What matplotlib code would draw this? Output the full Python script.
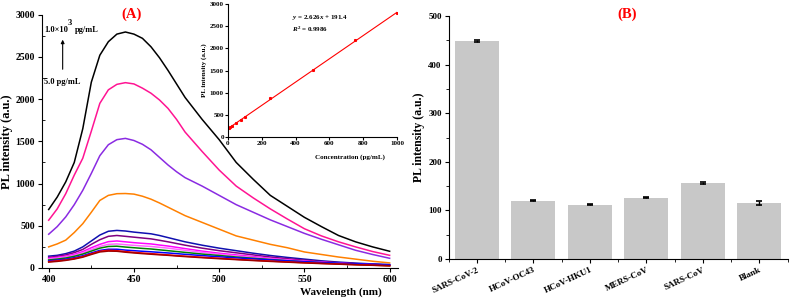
import matplotlib
matplotlib.use("Agg")
import matplotlib.pyplot as plt
from matplotlib.ticker import MultipleLocator

plt.rcParams["font.family"] = ["Liberation Serif", "DejaVu Serif"]
plt.rcParams["font.weight"] = "bold"
plt.rcParams["mathtext.fontset"] = "custom"
plt.rcParams["mathtext.rm"] = "Liberation Serif:bold"
plt.rcParams["mathtext.it"] = "Liberation Serif:bold:italic"

# ---- panel A: PL spectra ----
wavelength = [400, 405, 410, 415, 420, 425, 430, 435, 440, 445, 450, 455,
              460, 465, 470, 475, 480, 490, 500, 510, 520, 530, 540, 550,
              560, 570, 580, 590, 600]

spec_1000 = [693, 840, 1020, 1250, 1650, 2200, 2520, 2680, 2770, 2795, 2770, 2720,
             2620, 2490, 2340, 2180, 2020, 1760, 1520, 1250, 1050, 860, 730, 600,
             490, 385, 310, 250, 198]
spec_750 = [566, 700, 880, 1100, 1300, 1620, 1950, 2110, 2175, 2195, 2180, 2130,
            2070, 1990, 1890, 1760, 1610, 1380, 1160, 970, 830, 700, 580, 465,
            380, 310, 250, 195, 150]
spec_500 = [400, 490, 605, 750, 920, 1120, 1330, 1460, 1520, 1535, 1510, 1465,
            1400, 1310, 1220, 1140, 1070, 970, 860, 750, 660, 570, 490, 410,
            340, 275, 210, 160, 115]
spec_250 = [250, 285, 330, 420, 525, 660, 800, 860, 880, 882, 875, 850,
            815, 770, 720, 670, 620, 540, 460, 380, 330, 280, 240, 190,
            160, 130, 105, 80, 60]
spec_100 = [140, 150, 170, 200, 250, 320, 390, 435, 445, 438, 425, 415,
            405, 385, 360, 335, 310, 270, 235, 205, 175, 148, 125, 105,
            85, 70, 58, 48, 40]
spec_75 = [125, 138, 155, 182, 220, 280, 335, 375, 385, 375, 365, 355,
           345, 328, 310, 290, 270, 235, 205, 180, 155, 130, 110, 92,
           76, 63, 52, 43, 35]
spec_50 = [115, 126, 140, 162, 195, 240, 280, 312, 320, 310, 300, 292,
           285, 272, 260, 245, 230, 200, 175, 155, 135, 115, 98, 83,
           70, 58, 48, 40, 32]
spec_40 = [105, 116, 130, 150, 180, 218, 255, 280, 285, 276, 268, 261,
           255, 245, 235, 222, 210, 185, 162, 143, 125, 107, 92, 78,
           66, 55, 46, 38, 30]
spec_25 = [95, 105, 118, 138, 165, 200, 235, 255, 258, 248, 240, 232,
           225, 215, 205, 195, 185, 165, 148, 130, 115, 100, 86, 73,
           62, 52, 43, 35, 28]
spec_10 = [85, 93, 105, 122, 145, 178, 208, 222, 222, 212, 205, 198,
           192, 185, 178, 170, 162, 147, 133, 120, 108, 96, 85, 75,
           65, 57, 50, 44, 38]
spec_5 = [75, 84, 95, 112, 135, 168, 198, 210, 205, 194, 185, 177,
          170, 162, 155, 147, 140, 127, 115, 103, 92, 82, 72, 63,
          55, 47, 40, 33, 27]
spec_0 = [70, 78, 90, 106, 128, 160, 190, 200, 198, 187, 178, 170,
          163, 156, 150, 142, 135, 122, 110, 99, 88, 78, 69, 60,
          52, 45, 38, 32, 26]

spectra = [spec_1000, spec_750, spec_500, spec_250, spec_100, spec_75,
           spec_50, spec_40, spec_25, spec_10, spec_5, spec_0]
colors = ["black", "#FF1493", "#8A2BE2", "#FF8000", "#1010B0", "#800080",
          "#FF00FF", "#FF66FF", "#008000", "#0000FF", "#FF0000", "#A00000"]

# inset calibration
conc = [5, 10, 25, 50, 75, 100, 250, 500, 750, 1000]
peak = [205, 222, 258, 320, 385, 445, 880, 1525, 2190, 2800]

# ---- panel B: selectivity ----
targets = ["SARS-CoV-2", "HCoV-OC43", "HCoV-HKU1", "MERS-CoV", "SARS-CoV", "Blank"]
intensity = [448, 120, 112, 126, 157, 115]
err = [2, 1.5, 1.5, 1.5, 2, 4]

fig = plt.figure(figsize=(7.9, 2.98), dpi=100)

ax = fig.add_axes([0.053, 0.1007, 0.451, 0.850])
for s, c in zip(spectra, colors):
    ax.plot(wavelength, s, color=c, linewidth=1.1)
ax.set_xlim(396, 605)
ax.set_ylim(0, 3000)
ax.spines["top"].set_visible(False)
ax.spines["right"].set_visible(False)
ax.xaxis.set_major_locator(MultipleLocator(50))
ax.xaxis.set_minor_locator(MultipleLocator(25))
ax.yaxis.set_major_locator(MultipleLocator(500))
ax.yaxis.set_minor_locator(MultipleLocator(250))
ax.tick_params(which="major", direction="out", length=3, labelsize=7, pad=2)
ax.tick_params(which="minor", direction="in", length=2)
ax.set_xlabel("Wavelength (nm)", fontsize=8, fontweight="bold")
ax.xaxis.set_label_coords(0.84, -0.075)
ax.set_ylabel("PL intensity (a.u.)", fontsize=9, fontweight="bold", labelpad=2)

# concentration arrow annotation
ax.text(397.2, 2820, "1.0\u00d710", fontsize=6, fontweight="bold", va="center")
ax.text(411.3, 2900, "3", fontsize=6, fontweight="bold", va="center")
ax.text(415.4, 2820, "pg/mL", fontsize=6, fontweight="bold", va="center")
ax.text(397.2, 2203, "5.0 pg/mL", fontsize=6, fontweight="bold", va="center")
ax.annotate("", xy=(408.2, 2737), xytext=(408.2, 2321),
            arrowprops=dict(arrowstyle="-|>", color="black", lw=0.8, mutation_scale=5))

fig.text(132 / 790, 1 - 14 / 298, "(A)", color="red", fontsize=10.5,
         fontweight="bold", ha="center", va="center")

ins = fig.add_axes([0.2886, 0.540, 0.214, 0.446])
ins.plot(conc, peak, "s", color="red", markersize=1.2)
ins.plot([0, 1000], [191.4, 2.626 * 1000 + 191.4], color="red", linewidth=0.8)
ins.set_xlim(0, 1000)
ins.set_ylim(0, 3000)
ins.spines["top"].set_visible(False)
ins.spines["right"].set_visible(False)
ins.xaxis.set_major_locator(MultipleLocator(200))
ins.yaxis.set_major_locator(MultipleLocator(500))
ins.tick_params(direction="out", length=2, labelsize=5, pad=1)
ins.set_xlabel("Concentration (pg/mL)", fontsize=5, fontweight="bold", labelpad=2)
ins.xaxis.set_label_coords(0.72, -0.13)
ins.set_ylabel("PL intensity (a.u.)", fontsize=5, fontweight="bold", labelpad=2)
ins.text(380, 2700, r"$y$ = 2.626$x$ + 191.4", fontsize=5, va="center")
ins.text(380, 2440, r"$R^2$ = 0.9986", fontsize=5, va="center")

bx = fig.add_axes([0.568, 0.131, 0.429, 0.815])
pos = range(len(targets))
bx.bar(pos, intensity, width=0.78, color="#C8C8C8")
bx.errorbar(pos, intensity, yerr=err, fmt="none", ecolor="black",
            elinewidth=1, capsize=2.5, capthick=1.2)
bx.set_xlim(-0.5, 5.5)
bx.set_ylim(0, 500)
bx.spines["top"].set_visible(False)
bx.spines["right"].set_visible(False)
bx.set_xticks(list(pos))
bx.set_xticklabels(targets, rotation=25, ha="right", rotation_mode="anchor")
bx.xaxis.set_minor_locator(MultipleLocator(1, offset=0.5))
bx.yaxis.set_major_locator(MultipleLocator(100))
bx.yaxis.set_minor_locator(MultipleLocator(50))
bx.tick_params(which="major", direction="out", length=3, labelsize=6.5, pad=2)
bx.tick_params(which="minor", direction="out", length=2)
bx.set_ylabel("PL intensity (a.u.)", fontsize=8.5, fontweight="bold", labelpad=2)

fig.text(627 / 790, 1 - 14 / 298, "(B)", color="red", fontsize=10.5,
         fontweight="bold", ha="center", va="center")

fig.savefig("out.png", dpi=100)
